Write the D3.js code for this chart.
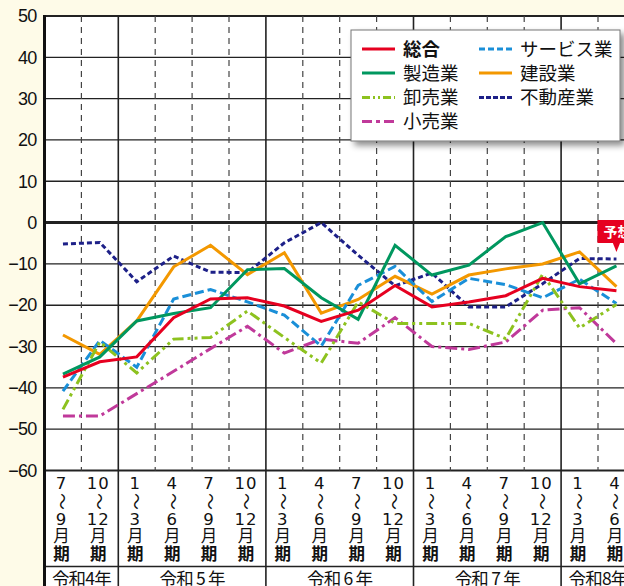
<!DOCTYPE html>
<html>
<head>
<meta charset="utf-8">
<script src="https://cdn.jsdelivr.net/npm/d3@7"></script>
<style>
  body { margin: 0; background: #fefbe8; }
  svg { display: block; font-family: "Liberation Sans", Arial, "Noto Sans CJK JP", sans-serif; }
</style>
</head>
<body>
<div id="my_dataviz"></div>
<script>
// quarters (7-9 R4 ... 4-6 R8)
var quarters = ["R4-3","R4-4","R5-1","R5-2","R5-3","R5-4","R6-1","R6-2","R6-3","R6-4","R7-1","R7-2","R7-3","R7-4","R8-1","R8-2"];
var fromMonth = ["7","10","1","4","7","10","1","4","7","10","1","4","7","10","1","4"];
var toMonth   = ["9","12","3","6","9","12","3","6","9","12","3","6","9","12","3","6"];
var yearLabels = ["令和4年","令和 5 年","令和 6 年","令和 7 年","令和8年"];
var yearSpans  = [2, 4, 4, 4, 2];
var yTicks = [50, 40, 30, 20, 10, 0, -10, -20, -30, -40, -50, -60];

// DI values
var sogo     = [-37.4, -33.7, -32.5, -23.0, -18.5, -18.2, -20.2, -23.9, -21.2, -15.2, -20.4, -19.2, -17.7, -13.5, -15.5, -16.5];
var seizo    = [-36.7, -32.5, -23.8, -22.0, -20.6, -11.4, -11.1, -18.2, -23.4, -5.5, -12.7, -10.3, -3.4, 0.0, -14.8, -10.5];
var oroshi   = [-45.2, -28.9, -36.4, -28.2, -27.8, -21.4, -27.8, -34.0, -19.2, -24.4, -24.4, -24.4, -28.1, -12.5, -25.5, -19.8];
var kouri    = [-46.8, -46.8, -41.4, -36.0, -30.5, -25.1, -31.6, -28.2, -29.2, -23.0, -30.0, -30.7, -28.9, -21.2, -20.6, -29.3];
var service  = [-40.8, -28.5, -35.0, -18.5, -16.2, -19.2, -22.4, -29.9, -15.2, -10.6, -19.1, -13.5, -15.0, -18.2, -13.7, -19.6];
var kensetsu = [-27.2, -31.9, -23.8, -10.7, -5.5, -12.6, -7.3, -21.9, -18.6, -13.0, -17.3, -12.7, -11.2, -10.0, -7.1, -15.5];
var fudosan  = [-5.2, -4.8, -14.3, -8.1, -12.0, -12.1, -4.9, 0.0, -7.9, -15.3, -12.2, -20.4, -20.4, -14.8, -8.7, -8.8];

var series = [
  {name: "総合",      values: sogo,     color: "#e60020", dash: null, legendDash: null, bold: true},
  {name: "製造業",    values: seizo,    color: "#00975f", dash: null, legendDash: null},
  {name: "卸売業",    values: oroshi,   color: "#8dc21f", dash: "11,4,3,4,3,4", legendDash: "8,3,2,3,2,3"},
  {name: "小売業",    values: kouri,    color: "#c0399a", dash: "12,4,3,4",     legendDash: "10,4,4,4"},
  {name: "サービス業", values: service,  color: "#1a8fd8", dash: "9,4",          legendDash: "6,3"},
  {name: "建設業",    values: kensetsu, color: "#f39800", dash: null, legendDash: null},
  {name: "不動産業",  values: fudosan,  color: "#1d2088", dash: "5,3",          legendDash: "5,2"}
];

var W = 624, H = 586;
var x0 = 44.5, step = 36.9;
var plotTop = 16, plotBottom = 470.5, labelBottom = 586, yearRowTop = 566.5;

var svg = d3.select("#my_dataviz")
  .append("svg")
    .attr("width", W)
    .attr("height", H);

var defs = svg.append("defs");
defs.append("filter")
    .attr("id", "shadow")
    .attr("x", "-10%").attr("y", "-10%").attr("width", "130%").attr("height", "140%")
  .append("feDropShadow")
    .attr("dx", 4).attr("dy", 4).attr("stdDeviation", 3)
    .attr("flood-color", "#000").attr("flood-opacity", 0.45);

// scales
var x = d3.scaleBand()
  .domain(quarters)
  .range([x0, x0 + step * quarters.length])
  .padding(0);
var y = d3.scaleLinear()
  .domain([-60, 50])
  .range([plotBottom, plotTop]);
function cx(q) { return x(q) + x.bandwidth() / 2; }

// white area for plot + labels
svg.append("rect")
  .attr("x", x0).attr("y", plotTop)
  .attr("width", W - x0).attr("height", labelBottom - plotTop)
  .attr("fill", "#fff");

// horizontal grid
svg.append("g")
  .selectAll("line")
  .data(yTicks)
  .enter().append("line")
    .attr("x1", x0).attr("x2", W)
    .attr("y1", function(d) { return y(d); })
    .attr("y2", function(d) { return y(d); })
    .attr("stroke", "#222")
    .attr("stroke-width", function(d) { return d === 0 ? 3 : (d === 50 || d === -60 ? 2.2 : 1.3); });

// vertical grid: solid at year boundaries, dashed otherwise
var bounds = quarters.slice(1);
svg.append("g")
  .selectAll("line")
  .data(bounds)
  .enter().append("line")
    .attr("x1", function(d) { return x(d); })
    .attr("x2", function(d) { return x(d); })
    .attr("y1", plotTop)
    .attr("y2", function(d, i) { return fromMonth[i + 1] === "1" ? labelBottom : plotBottom; })
    .attr("stroke", function(d, i) { return fromMonth[i + 1] === "1" ? "#222" : "#444"; })
    .attr("stroke-width", function(d, i) { return fromMonth[i + 1] === "1" ? 1.6 : 1.2; })
    .attr("stroke-dasharray", function(d, i) { return fromMonth[i + 1] === "1" ? null : "6,5"; });

// year row line
svg.append("line")
  .attr("x1", x0).attr("x2", W)
  .attr("y1", yearRowTop).attr("y2", yearRowTop)
  .attr("stroke", "#222").attr("stroke-width", 1.5);

// left axis line
svg.append("line")
  .attr("x1", x0).attr("x2", x0)
  .attr("y1", plotTop - 1).attr("y2", labelBottom)
  .attr("stroke", "#111").attr("stroke-width", 3);

// Y axis labels
var yAxis = svg.append("g")
  .attr("transform", "translate(" + x0 + ",0)")
  .call(d3.axisLeft(y).tickValues(yTicks).tickSize(0).tickPadding(8).tickFormat(d3.format("d")));
yAxis.select(".domain").remove();
yAxis.selectAll("text")
  .style("font", "18px 'Liberation Sans', Arial")
  .style("letter-spacing", "-0.8px")
  .attr("fill", "#111");

// lines
var line = d3.line()
  .x(function(d, i) { return cx(quarters[i]); })
  .y(function(d) { return y(d); });

svg.append("g")
  .selectAll("path")
  .data(series.slice().reverse())
  .enter().append("path")
    .attr("d", function(s) { return line(s.values); })
    .attr("fill", "none")
    .attr("stroke", function(s) { return s.color; })
    .attr("stroke-width", 3)
    .attr("stroke-linejoin", "miter")
    .attr("stroke-dasharray", function(s) { return s.dash; });

// quarter labels
var lab = svg.append("g")
  .attr("fill", "#111")
  .attr("text-anchor", "middle");
var rows = [483, 501.5, 519, 536.5, 554];
quarters.forEach(function(q, i) {
  var xc = cx(q) - 1.5;
  lab.append("text").attr("x", xc).attr("y", rows[0]).attr("dy", "0.36em")
    .style("font", "16.5px 'DejaVu Sans'").style("letter-spacing", "1px").text(fromMonth[i]);
  lab.append("text")
    .attr("transform", "translate(" + (xc + 0.5) + "," + rows[1] + ") rotate(90)")
    .attr("dy", "0.35em")
    .style("font-size", "17px")
    .style("font-family", "'Noto Sans CJK JP'")
    .text("〜");
  lab.append("text").attr("x", xc).attr("y", rows[2]).attr("dy", "0.36em")
    .style("font", "16.5px 'DejaVu Sans'").style("letter-spacing", "1px").text(toMonth[i]);
  lab.append("text").attr("x", xc).attr("y", rows[3]).attr("dy", "0.36em")
    .style("font-family", "'Noto Sans CJK JP'").style("font-size", "16.5px").text("月");
  lab.append("text").attr("x", xc).attr("y", rows[4]).attr("dy", "0.36em")
    .style("font-family", "'Noto Sans CJK JP'").style("font-size", "16.5px").style("font-weight", "bold").text("期");
});

// year labels
var start = 0;
yearLabels.forEach(function(t, i) {
  var a = x(quarters[start]);
  var b = a + step * yearSpans[i];
  lab.append("text")
    .attr("x", (a + b) / 2).attr("y", 579)
    .attr("dy", "0.36em")
    .style("font-family", "'Noto Sans CJK JP'")
    .style("font-size", "17.5px")
    .style("letter-spacing", "-0.8px")
    .text(t);
  start += yearSpans[i];
});

// forecast marker on last quarter
var lastX = cx(quarters[quarters.length - 1]);
var mk = svg.append("g");
mk.append("rect")
  .attr("x", lastX - 19).attr("y", 220)
  .attr("width", 40).attr("height", 23)
  .attr("fill", "#e60020");
mk.append("path")
  .attr("d", "M" + (lastX - 4) + ",242 L" + (lastX + 4) + ",242 L" + lastX + ",252 Z")
  .attr("fill", "#e60020");
mk.append("text")
  .attr("x", lastX - 13).attr("y", 231.5)
  .attr("dy", "0.36em")
  .style("font-family", "'Noto Sans CJK JP'")
  .style("font-size", "14px")
  .style("font-weight", "bold")
  .attr("fill", "#fff")
  .text("予想");

// legend
var legend = svg.append("g").attr("transform", "translate(351,30)");
legend.append("rect")
  .attr("width", 269).attr("height", 111)
  .attr("fill", "#fff")
  .attr("stroke", "#777").attr("stroke-width", 1)
  .attr("filter", "url(#shadow)");

var legendPos = [
  [11, 19], [11, 43], [11, 67.5], [11, 91.5],
  [128, 19], [128, 43], [128, 67.5]
];
series.forEach(function(s, i) {
  var p = legendPos[i];
  legend.append("line")
    .attr("x1", p[0]).attr("x2", p[0] + 33)
    .attr("y1", p[1]).attr("y2", p[1])
    .attr("stroke", s.color).attr("stroke-width", 3)
    .attr("stroke-dasharray", s.legendDash);
  legend.append("text")
    .attr("x", p[0] + 41).attr("y", p[1])
    .attr("dy", "0.36em")
    .style("font-family", "'Noto Sans CJK JP'")
    .style("font-size", "18.5px")
    .style("font-weight", s.bold ? "bold" : "normal")
    .attr("fill", "#111")
    .text(s.name);
});
</script>
</body>
</html>
